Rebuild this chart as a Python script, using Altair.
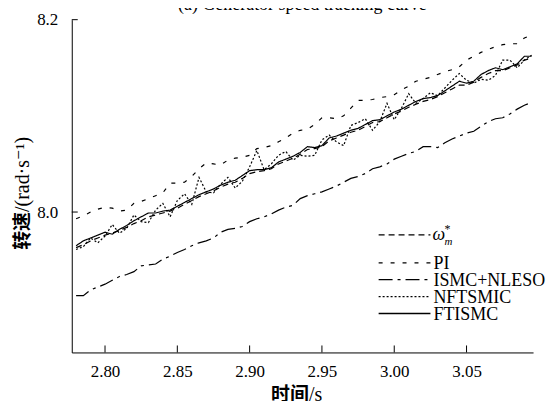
import altair as alt
import pandas as pd

# ---------------- data ----------------
time_s = [2.780, 2.785, 2.790, 2.795, 2.800, 2.805, 2.810, 2.815, 2.820, 2.825,
          2.830, 2.835, 2.840, 2.845, 2.850, 2.855, 2.860, 2.865, 2.870, 2.875,
          2.880, 2.885, 2.890, 2.895, 2.900, 2.905, 2.910, 2.915, 2.920, 2.925,
          2.930, 2.935, 2.940, 2.945, 2.950, 2.955, 2.960, 2.965, 2.970, 2.975,
          2.980, 2.985, 2.990, 2.995, 3.000, 3.005, 3.010, 3.015, 3.020, 3.025,
          3.030, 3.035, 3.040, 3.045, 3.050, 3.055, 3.060, 3.065, 3.070, 3.075,
          3.080, 3.085, 3.090, 3.095]

omega_ref = [7.963, 7.966, 7.970, 7.973, 7.976, 7.978, 7.981, 7.984, 7.988, 7.991,
             7.995, 7.997, 7.999, 8.001, 8.004, 8.008, 8.012, 8.016, 8.019, 8.022,
             8.026, 8.029, 8.031, 8.035, 8.040, 8.042, 8.043, 8.045, 8.050, 8.053,
             8.056, 8.060, 8.065, 8.066, 8.068, 8.074, 8.077, 8.080, 8.083, 8.085,
             8.089, 8.093, 8.094, 8.098, 8.102, 8.105, 8.109, 8.112, 8.115, 8.117,
             8.120, 8.124, 8.128, 8.132, 8.132, 8.135, 8.140, 8.144, 8.147, 8.147,
             8.150, 8.153, 8.158, 8.160]

pi_speed = [7.993, 7.996, 8.000, 8.003, 8.005, 8.004, 8.001, 8.002, 8.009, 8.011,
            8.014, 8.017, 8.020, 8.030, 8.030, 8.031, 8.037, 8.045, 8.051, 8.050,
            8.049, 8.054, 8.056, 8.057, 8.059, 8.066, 8.067, 8.069, 8.073, 8.077,
            8.082, 8.085, 8.086, 8.091, 8.098, 8.098, 8.097, 8.100, 8.108, 8.116,
            8.116, 8.117, 8.119, 8.120, 8.122, 8.127, 8.131, 8.136, 8.138, 8.140,
            8.143, 8.146, 8.148, 8.151, 8.158, 8.162, 8.166, 8.169, 8.172, 8.174,
            8.175, 8.175, 8.181, 8.184]

ismc_nleso = [7.913, 7.913, 7.919, 7.922, 7.925, 7.929, 7.933, 7.935, 7.938, 7.944,
              7.945, 7.946, 7.951, 7.954, 7.958, 7.961, 7.965, 7.968, 7.970, 7.973,
              7.979, 7.982, 7.983, 7.985, 7.990, 7.993, 7.995, 7.998, 8.002, 8.005,
              8.007, 8.014, 8.017, 8.019, 8.021, 8.024, 8.027, 8.031, 8.035, 8.037,
              8.040, 8.045, 8.047, 8.050, 8.055, 8.058, 8.061, 8.063, 8.068, 8.068,
              8.067, 8.072, 8.076, 8.079, 8.082, 8.084, 8.089, 8.094, 8.097, 8.098,
              8.102, 8.107, 8.111, 8.114]

nftsmic = [7.961, 7.964, 7.973, 7.968, 7.975, 7.987, 7.978, 7.983, 7.997, 7.990,
           7.989, 8.002, 8.009, 7.995, 8.012, 8.019, 8.008, 8.036, 8.021, 8.020,
           8.029, 8.036, 8.025, 8.032, 8.047, 8.064, 8.044, 8.050, 8.059, 8.063,
           8.054, 8.059, 8.058, 8.059, 8.075, 8.080, 8.073, 8.069, 8.090, 8.093,
           8.097, 8.085, 8.094, 8.113, 8.096, 8.108, 8.123, 8.113, 8.118, 8.124,
           8.121, 8.129, 8.137, 8.144, 8.137, 8.134, 8.138, 8.137, 8.142, 8.158,
           8.158, 8.150, 8.158, 8.163]

ftismc = [7.965, 7.970, 7.973, 7.976, 7.979, 7.977, 7.982, 7.986, 7.991, 7.995,
          7.999, 7.999, 8.001, 8.002, 8.006, 8.010, 8.014, 8.018, 8.021, 8.024,
          8.028, 8.031, 8.033, 8.038, 8.043, 8.044, 8.044, 8.046, 8.052, 8.055,
          8.058, 8.062, 8.068, 8.067, 8.069, 8.077, 8.079, 8.082, 8.085, 8.087,
          8.091, 8.095, 8.096, 8.100, 8.104, 8.107, 8.111, 8.115, 8.118, 8.119,
          8.121, 8.126, 8.131, 8.136, 8.134, 8.136, 8.143, 8.147, 8.150, 8.148,
          8.151, 8.154, 8.162, 8.162]

x_ticks = [2.80, 2.85, 2.90, 2.95, 3.00, 3.05]
y_ticks = [8.0, 8.2]

series_names = ["ω*m", "PI", "ISMC+NLESO", "NFTSMIC", "FTISMC"]
series_values = [omega_ref, pi_speed, ismc_nleso, nftsmic, ftismc]

# ---------------- styles ----------------
SERIF = "Liberation Serif, DejaVu Serif, Noto Sans CJK SC"
CJK = "Noto Sans CJK SC"
dash_patterns = [[6, 4], [4, 8], [14, 5, 3, 5], [2, 2], [1, 0]]
line_widths = [1.2, 1.2, 1.2, 1.2, 1.5]

W, H = 463, 334

rows = []
for name, vals in zip(series_names, series_values):
    for t, v in zip(time_s, vals):
        rows.append({"t": t, "v": v, "s": name})
df = pd.DataFrame(rows)

x_scale = alt.Scale(domain=[2.777, 3.096], nice=False, zero=False)
y_scale = alt.Scale(domain=[7.854, 8.2], nice=False, zero=False)

x_axis = alt.Axis(values=x_ticks, format=".2f", labelPadding=11, title=None)
y_axis = alt.Axis(values=y_ticks, format=".1f", labelPadding=14, title=None)

lines = alt.Chart(df).mark_line(color="black", strokeCap="butt").encode(
    x=alt.X("t:Q", scale=x_scale, axis=x_axis),
    y=alt.Y("v:Q", scale=y_scale, axis=y_axis),
    strokeDash=alt.StrokeDash("s:N", scale=alt.Scale(domain=series_names, range=dash_patterns), legend=None),
    strokeWidth=alt.StrokeWidth("s:N", scale=alt.Scale(domain=series_names, range=line_widths), legend=None),
)

one = pd.DataFrame({"a": [0]})

# inward ticks
xt = alt.Chart(pd.DataFrame({"t": x_ticks})).mark_rule(color="black", strokeWidth=1).encode(
    x=alt.X("t:Q", scale=x_scale, axis=x_axis), y=alt.value(H), y2=alt.value(H - 7))
yt = alt.Chart(pd.DataFrame({"v": y_ticks})).mark_rule(color="black", strokeWidth=1).encode(
    y=alt.Y("v:Q", scale=y_scale, axis=y_axis), x=alt.value(0), x2=alt.value(6))


def txt(text, x, y, font=SERIF, size=18, **kw):
    return alt.Chart(one).mark_text(text=text, font=font, fontSize=size, color="black", **kw).encode(
        x=alt.value(x), y=alt.value(y))


# manual legend
row_y = [216, 244, 261, 278, 295]
legend_layers = []
for name, dash, sw, ry in zip(series_names, dash_patterns, line_widths, row_y):
    legend_layers.append(
        alt.Chart(one).mark_rule(color="black", strokeDash=dash, strokeWidth=sw, strokeCap="butt").encode(
            x=alt.value(308), x2=alt.value(360), y=alt.value(ry)))
    if name != "ω*m":
        legend_layers.append(txt(name, 363, ry + 6, align="left", baseline="alphabetic"))
# omega*_m label (italic omega, superscript *, subscript m)
legend_layers.append(txt("ω", 362, 221, align="left", baseline="alphabetic", fontStyle="italic"))
legend_layers.append(txt("*", 374, 214, size=12, align="left", baseline="alphabetic"))
legend_layers.append(txt("m", 374, 226, size=11, align="left", baseline="alphabetic", fontStyle="italic"))

# axis titles (Chinese in bold sans, units in serif)
titles = [
    txt("时间", 200, 383, font=CJK, size=19, fontWeight="bold", align="left", baseline="alphabetic"),
    txt("/s", 238, 383, size=20, align="left", baseline="alphabetic"),
    txt("转速", -49, 231, font=CJK, size=19, fontWeight="bold", angle=270, align="left", baseline="middle"),
    txt("/(rad·s⁻¹)", -49, 193, size=20, angle=270, align="left", baseline="middle"),
    # partially visible chart title at the very top
    txt("(a) Generator speed tracking curve", W / 2, -10, align="center", baseline="alphabetic"),
]

chart = alt.layer(lines, xt, yt, *legend_layers, *titles).properties(
    width=W, height=H,
    autosize=alt.AutoSizeParams(type="none"),
    padding={"left": 64, "top": 11, "right": 16, "bottom": 48},
).configure_view(stroke=None).configure_axis(
    labelFont=SERIF, labelFontSize=17, labelColor="black", labelFlush=False,
    ticks=False, grid=False, domainColor="black", domainWidth=1,
)

chart.save("out.html", embed_options={"renderer": "svg", "actions": False})
